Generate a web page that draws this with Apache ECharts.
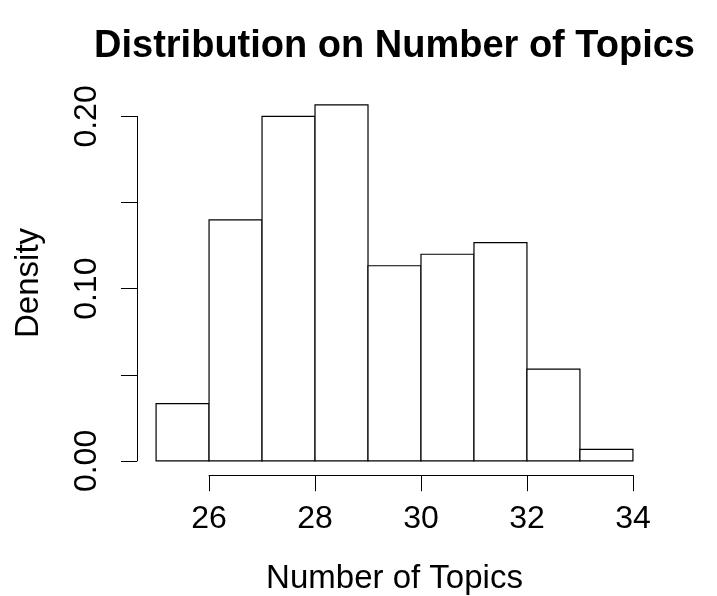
<!DOCTYPE html>
<html>
<head>
<meta charset="utf-8">
<script src="https://cdn.jsdelivr.net/npm/echarts@6/dist/echarts.min.js"></script>
<style>
html,body{margin:0;padding:0;background:#fff;}
#chart{width:717px;height:596px;}
</style>
</head>
<body>
<div id="chart"></div>
<script>
// Histogram data
var binStarts = [25, 26, 27, 28, 29, 30, 31, 32, 33];
var binEnds   = [26, 27, 28, 29, 30, 31, 32, 33, 34];
var density   = [0.0333, 0.14, 0.2, 0.2067, 0.1133, 0.12, 0.1267, 0.0533, 0.0067];
var xTicks = [26, 28, 30, 32, 34];
var yTickLabels = ['0.00', '0.10', '0.20'];

var FONT = 'Liberation Sans, Arial, Helvetica, sans-serif';
var chart = echarts.init(document.getElementById('chart'), null, {renderer: 'canvas'});

var histData = binStarts.map(function (s, i) { return [s, binEnds[i], density[i]]; });

var option = {
  backgroundColor: '#ffffff',
  animation: false,
  title: {
    text: 'Distribution on Number of Topics',
    left: 394.5,
    top: 28,
    padding: 0,
    textAlign: 'center',
    textStyle: {fontFamily: FONT, fontSize: 38, fontWeight: 'bold', color: '#000'}
  },
  grid: [
    // plot region (bars)
    {left: 137, right: 65, top: 90.7, bottom: 120.8, outerBoundsMode: 'none', containLabel: false},
    // x axis (26..34)
    {left: 209, right: 84, bottom: 120.8, height: 10, outerBoundsMode: 'none', containLabel: false},
    // y axis (0..0.20)
    {left: 137, width: 10, top: 116.45, bottom: 135.05, outerBoundsMode: 'none', containLabel: false}
  ],
  xAxis: [
    {
      gridIndex: 0, type: 'value', min: 24.64, max: 34.36,
      axisLine: {show: false}, axisTick: {show: false}, axisLabel: {show: false}, splitLine: {show: false},
      name: 'Number of Topics', nameLocation: 'middle', nameGap: 87,
      nameTextStyle: {fontFamily: FONT, fontSize: 33, color: '#000'}
    },
    {
      gridIndex: 1, type: 'value', min: 26, max: 34, interval: 2,
      axisLine: {show: true, lineStyle: {color: '#000', width: 1}},
      axisTick: {show: true, inside: false, length: 16, lineStyle: {color: '#000', width: 1}},
      axisLabel: {
        show: true, margin: 28, fontFamily: FONT, fontSize: 32, color: '#000',
        formatter: function (v) { return xTicks.indexOf(v) >= 0 ? String(v) : ''; }
      },
      splitLine: {show: false}
    },
    {
      gridIndex: 2, type: 'value', min: 0, max: 1,
      axisLine: {show: false}, axisTick: {show: false}, axisLabel: {show: false}, splitLine: {show: false}
    }
  ],
  yAxis: [
    {
      gridIndex: 0, type: 'value', min: -0.00827, max: 0.21493,
      axisLine: {show: false}, axisTick: {show: false}, axisLabel: {show: false}, splitLine: {show: false},
      name: 'Density', nameLocation: 'middle', nameRotate: 90, nameGap: 92,
      nameTextStyle: {fontFamily: FONT, fontSize: 33, color: '#000'}
    },
    {
      gridIndex: 1, type: 'value', min: 0, max: 1,
      axisLine: {show: false}, axisTick: {show: false}, axisLabel: {show: false}, splitLine: {show: false}
    },
    {
      gridIndex: 2, type: 'value', min: 0, max: 0.2, interval: 0.05,
      axisLine: {show: true, lineStyle: {color: '#000', width: 1}},
      axisTick: {show: true, inside: false, length: 16, lineStyle: {color: '#000', width: 1}},
      axisLabel: {
        show: true, rotate: 90, margin: 34, fontFamily: FONT, fontSize: 32, color: '#000',
        formatter: function (v) {
          var s = v.toFixed(2);
          return yTickLabels.indexOf(s) >= 0 ? s : '';
        }
      },
      splitLine: {show: false}
    }
  ],
  series: [{
    type: 'custom',
    xAxisIndex: 0, yAxisIndex: 0,
    clip: false,
    data: histData,
    renderItem: function (params, api) {
      var p0 = api.coord([api.value(0), api.value(2)]);
      var p1 = api.coord([api.value(1), 0]);
      return {
        type: 'rect',
        shape: {x: p0[0], y: p0[1], width: p1[0] - p0[0], height: p1[1] - p0[1]},
        style: {fill: '#fff', stroke: '#000', lineWidth: 1.2}
      };
    }
  }]
};
chart.setOption(option);
</script>
</body>
</html>
